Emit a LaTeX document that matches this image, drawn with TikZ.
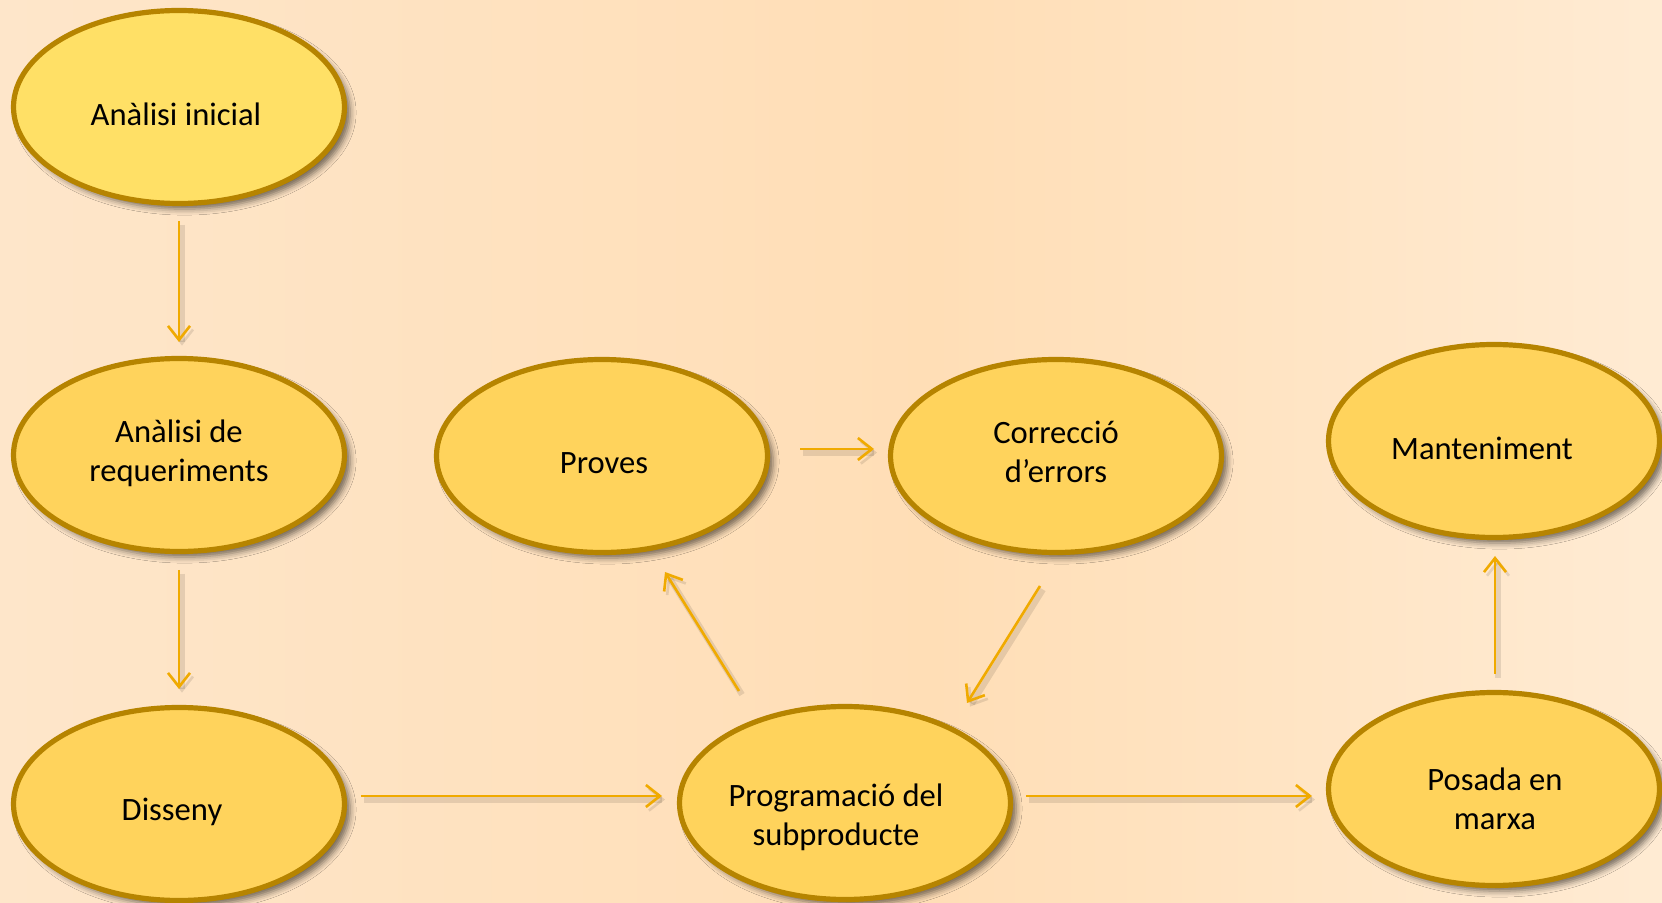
\documentclass[tikz,border=0pt]{standalone}
\usepackage{fontspec}
\setmainfont{Carlito}
\usetikzlibrary{shapes.geometric,arrows.meta,shadows.blur,calc}
\definecolor{bgL}{RGB}{253,237,220}
\definecolor{bgM}{RGB}{255,222,182}
\definecolor{bgR}{RGB}{255,250,244}
\definecolor{fillA}{RGB}{255,224,102}
\definecolor{fillB}{RGB}{255,211,92}
\definecolor{rim}{RGB}{182,132,0}
\definecolor{arrc}{RGB}{240,170,0}
\pgfdeclarehorizontalshading{bgshade}{100bp}{color(0bp)=(bgL); color(53bp)=(bgM); color(100bp)=(bgR)}
\begin{document}
\begin{tikzpicture}[x=0.5pt,y=-0.5pt,
  bub/.style={ellipse, draw=rim, line width=2.6pt, fill=fillB, minimum width=165.5pt, minimum height=96.5pt, inner sep=0pt,
    blur shadow={shadow xshift=2.8pt, shadow yshift=-2.8pt, shadow blur radius=3pt, shadow opacity=55}},
  txt/.style={align=center, font=\fontsize{16.3}{19.5}\selectfont, inner sep=0pt},
  arr/.style={draw=arrc, line width=1.3pt, -{Straight Barb[length=7pt,width=11pt,line width=1.3pt]},
    preaction={draw=black, draw opacity=0.1, line width=3pt, transform canvas={shift={(1.5pt,-1.8pt)}}}}
]
\useasboundingbox (0,0) rectangle (1662,903);
\fill[shading=bgshade] (0,0) rectangle (1662,903);

\node[bub, fill=fillA] (ai) at (179,107) {};
\node[bub] (ar) at (179,455) {};
\node[bub] (ds) at (179,804) {};
\node[bub] (pv) at (602,456) {};
\node[bub] (co) at (1056,456) {};
\node[bub] (mt) at (1494,441) {};
\node[bub] (pm) at (1494,789) {};
\node[bub] (pg) at (845,803) {};

\node[txt] (ait) at ($(ai)+(-3,7)$) {Anàlisi inicial};
\node[txt] (art) at ($(ar)+(0,-2)$) {Anàlisi de\\requeriments};
\node[txt] (dst) at ($(ds)+(-7,8)$) {Disseny};
\node[txt] (pvt) at ($(pv)+(2,7)$) {Proves};
\node[txt] (cot) at ($(co)+(0,-4)$) {Correcció\\d’errors};
\node[txt] (mtt) at ($(mt)+(-12,7)$) {Manteniment};
\node[txt] (pmt) at ($(pm)+(1,10)$) {Posada en\\marxa};
\node[txt] (pgt) at ($(pg)+(-9,14)$) {Programació del\\subproducte};

\draw[arr] ([shift={(0,114)}]ai.center) -- ([shift={(0,-113)}]ar.center);
\draw[arr] ([shift={(0,115)}]ar.center) -- ([shift={(0,-115)}]ds.center);
\draw[arr] ([shift={(182,-8)}]ds.center) -- ([shift={(-183,-7)}]pg.center);
\draw[arr] ([shift={(-106,-112)}]pg.center) -- ([shift={(63,116)}]pv.center);
\draw[arr] ([shift={(198,-7)}]pv.center) -- ([shift={(-182,-7)}]co.center);
\draw[arr] ([shift={(-16,130)}]co.center) -- ([shift={(122,-100)}]pg.center);
\draw[arr] ([shift={(181,-7)}]pg.center) -- ([shift={(-182,7)}]pm.center);
\draw[arr] ([shift={(1,-115)}]pm.center) -- ([shift={(1,115)}]mt.center);
\end{tikzpicture}
\end{document}
